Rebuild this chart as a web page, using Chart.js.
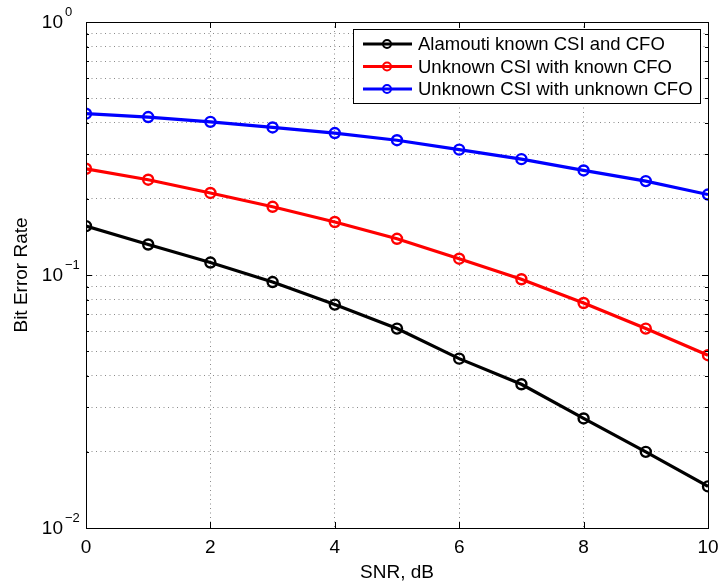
<!DOCTYPE html>
<html lang="en">
<head>
  <meta charset="UTF-8">
  <title>BER vs SNR</title>
  <script src="https://cdn.jsdelivr.net/npm/chart.js"></script>
  <style>
    html, body { margin: 0; padding: 0; background: #fff; }
    #wrap { width: 723px; height: 588px; }
  </style>
</head>
<body>
  <div id="wrap"><canvas id="berChart" width="723" height="588"></canvas></div>

  <script>
    // data
    const snr = [0, 1, 2, 3, 4, 5, 6, 7, 8, 9, 10];
    const berAlamouti = [0.156, 0.132, 0.112, 0.0938, 0.0764, 0.0614, 0.0467, 0.0370, 0.0271, 0.0200, 0.0146];
    const berKnownCfo = [0.263, 0.238, 0.211, 0.186, 0.162, 0.139, 0.116, 0.0962, 0.0775, 0.0614, 0.0482];
    const berUnknownCfo = [0.434, 0.421, 0.403, 0.383, 0.364, 0.341, 0.313, 0.287, 0.259, 0.235, 0.208];

    const seriesLabels = ['Alamouti known CSI and CFO', 'Unknown CSI with known CFO', 'Unknown CSI with unknown CFO'];
    const xTickValues = [0, 2, 4, 6, 8, 10];
    const yDecades = [1, 0.1, 0.01];
    const yExponents = ['0', '\u22121', '\u22122'];

    const FONT = '"Liberation Sans", Arial, Helvetica, sans-serif';

    // every 1..9 x 10^k between 0.01 and 1 for the dotted log grid
    const yGridValues = [];
    [0.01, 0.1].forEach(d => { for (let m = 1; m <= 9; m++) yGridValues.push(+(m * d).toPrecision(3)); });
    yGridValues.push(1);

    const makeSet = (label, data, color) => ({
      label, data, borderColor: color, backgroundColor: color,
      borderWidth: 3.2, pointRadius: 5, pointHoverRadius: 5,
      pointBorderWidth: 2.4, pointBackgroundColor: 'rgba(0,0,0,0)', pointBorderColor: color,
      tension: 0, fill: false
    });

    // box, inner tick marks, y labels with superscripts, legend
    const matlabLook = {
      id: 'matlabLook',
      afterDraw(chart) {
        const { ctx, chartArea: a, scales } = chart;
        const xs = scales.x, ys = scales.y;
        ctx.save();
        ctx.strokeStyle = '#000';
        ctx.lineWidth = 1;
        ctx.beginPath();
        xTickValues.forEach(v => {
          const px = Math.round(xs.getPixelForValue(v)) + 0.5;
          ctx.moveTo(px, a.bottom); ctx.lineTo(px, a.bottom - 6);
          ctx.moveTo(px, a.top); ctx.lineTo(px, a.top + 6);
        });
        yGridValues.forEach(v => {
          const py = Math.round(ys.getPixelForValue(v)) + 0.5;
          const len = yDecades.includes(v) ? 6 : 3;
          ctx.moveTo(a.left, py); ctx.lineTo(a.left + len, py);
          ctx.moveTo(a.right, py); ctx.lineTo(a.right - len, py);
        });
        ctx.stroke();
        ctx.strokeRect(Math.round(a.left) + 0.5, Math.round(a.top) + 0.5,
          Math.round(a.right - a.left), Math.round(a.bottom - a.top));

        // y tick labels 10^k
        ctx.fillStyle = '#000';
        ctx.textBaseline = 'middle';
        yDecades.forEach((v, i) => {
          const py = ys.getPixelForValue(v);
          ctx.font = '19px ' + FONT;
          ctx.textAlign = 'right';
          ctx.fillText('10', a.left - 23, py + 1);
          ctx.font = '13px ' + FONT;
          ctx.textAlign = 'left';
          ctx.fillText(yExponents[i], a.left - 21, py - 10);
        });

        // legend
        const lx = 353, ly = 29, lw = 347, lh = 74;
        ctx.fillStyle = '#fff';
        ctx.fillRect(lx, ly, lw, lh);
        ctx.strokeStyle = '#000';
        ctx.lineWidth = 1;
        ctx.strokeRect(lx + 0.5, ly + 0.5, lw, lh);
        chart.data.datasets.forEach((ds, i) => {
          const ry = 44 + i * 22.5;
          ctx.strokeStyle = ds.borderColor;
          ctx.lineWidth = 3;
          ctx.beginPath();
          ctx.moveTo(363, ry); ctx.lineTo(412, ry);
          ctx.stroke();
          ctx.lineWidth = 2;
          ctx.beginPath();
          ctx.arc(387, ry, 4, 0, Math.PI * 2);
          ctx.stroke();
          ctx.fillStyle = '#000';
          ctx.font = '18.5px ' + FONT;
          ctx.textAlign = 'left';
          ctx.textBaseline = 'middle';
          ctx.fillText(ds.label, 418, ry + 1);
        });
        ctx.restore();
      }
    };

    new Chart(document.getElementById('berChart'), {
      type: 'line',
      data: {
        labels: snr,
        datasets: [
          makeSet(seriesLabels[0], berAlamouti, '#000000'),
          makeSet(seriesLabels[1], berKnownCfo, '#ff0000'),
          makeSet(seriesLabels[2], berUnknownCfo, '#0000ff')
        ].map(ds => ({ ...ds, data: ds.data.map((y, i) => ({ x: snr[i], y })) }))
      },
      options: {
        responsive: false,
        animation: false,
        layout: { padding: { top: 22, right: 15, left: 0, bottom: 0 } },
        plugins: { legend: { display: false }, tooltip: { enabled: false } },
        scales: {
          x: {
            type: 'linear', min: 0, max: 10,
            afterBuildTicks: s => { s.ticks = xTickValues.map(v => ({ value: v })); },
            afterFit: s => { s.height = 60; s.paddingLeft = 0; s.paddingRight = 0; },
            ticks: { color: '#000', font: { family: FONT, size: 19 }, padding: 8, maxRotation: 0 },
            grid: { color: '#8a8a8a', lineWidth: 1, drawTicks: false },
            border: { display: true, color: '#000', dash: [1, 3.5] },
            title: { display: true, text: 'SNR, dB', color: '#000', font: { family: FONT, size: 19 }, padding: { top: 0, bottom: 4 } }
          },
          y: {
            type: 'logarithmic', min: 0.01, max: 1,
            afterBuildTicks: s => { s.ticks = yGridValues.map(v => ({ value: v })); },
            afterFit: s => { s.width = 86; s.paddingTop = 0; s.paddingBottom = 0; },
            ticks: { display: false },
            grid: { color: '#8a8a8a', lineWidth: 1, drawTicks: false },
            border: { display: true, color: '#000', dash: [1, 3.5] },
            title: { display: true, text: 'Bit Error Rate', color: '#000', font: { family: FONT, size: 19 }, padding: { top: 10, bottom: 0 } }
          }
        }
      },
      plugins: [matlabLook]
    });
  </script>
</body>
</html>
